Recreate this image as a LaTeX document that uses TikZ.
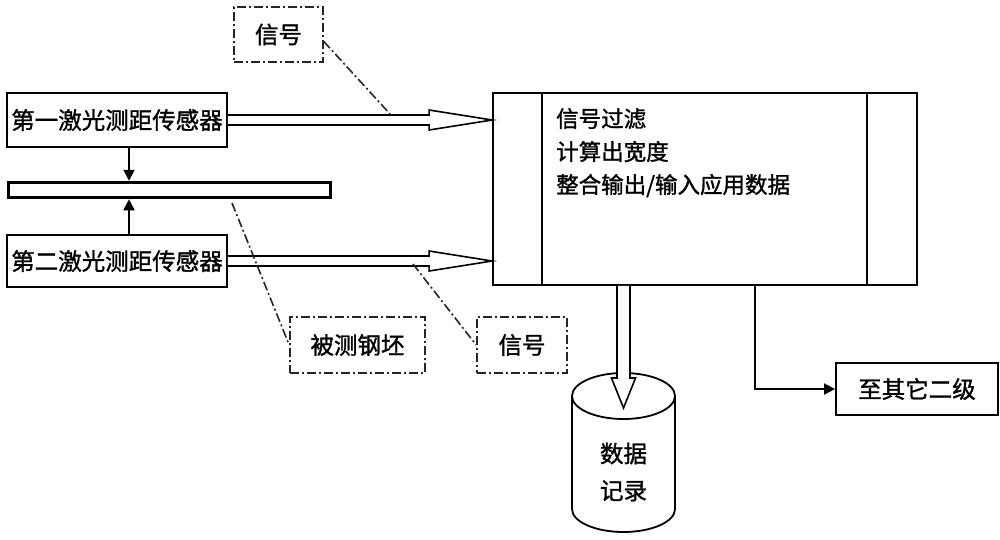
\documentclass[tikz,border=0pt]{standalone}
\usepackage{fontspec}
\setmainfont{Noto Sans CJK SC}[FakeBold=1.3]
\usetikzlibrary{arrows.meta,calc}
\tikzset{
  box/.style={draw, line width=1.8pt, rectangle, inner sep=0pt, font=\fontsize{23.5}{26}\selectfont},
  dashdotline/.style={draw=black!85, line width=1.6pt, dash pattern=on 9pt off 3pt on 2pt off 3pt},
  notebox/.style={dashdotline, rectangle, inner sep=0pt, font=\fontsize{23.5}{26}\selectfont},
  arr/.style={line width=1.8pt, -{Triangle[length=11pt,width=11pt]}},
  hollow/.style={draw, line width=1.6pt, fill=white, line join=miter},
}
\newcommand\hollowH[2]{\path[hollow] let \p1=(#1), \p2=(#2) in
  (\x1,\y1+5pt) -- (\x2-63pt,\y1+5pt) -- (\x2-63pt,\y1+10pt) -- (\x2,\y1)
  -- (\x2-63pt,\y1-10pt) -- (\x2-63pt,\y1-5pt) -- (\x1,\y1-5pt);}
\newcommand\hollowV[2]{\path[hollow] let \p1=(#1), \p2=(#2) in
  (\x1-6.5pt,\y1) -- (\x1-6.5pt,\y2+30pt) -- (\x1-12pt,\y2+30pt) -- (\x1,\y2)
  -- (\x1+12pt,\y2+30pt) -- (\x1+6.5pt,\y2+30pt) -- (\x1+6.5pt,\y1);}
\begin{document}
\begin{tikzpicture}[x=1pt,y=-1pt]
\useasboundingbox[fill=white] (0,0) rectangle (1000,539);
% sensors and bar
\node[box, minimum width=220pt, minimum height=54pt] (s1) at (117,120) {第一激光测距传感器};
\node[box, minimum width=220pt, minimum height=52pt] (s2) at (117,261) {第二激光测距传感器};
\node[draw, line width=3.5pt, minimum width=322pt, minimum height=15pt, inner sep=0pt] (bar) at (169.5,190) {};
\draw[arr] ([xshift=12pt]s1.south) -- ([xshift=12pt]s1.south |- bar.north);
\draw[arr] ([xshift=12pt]s2.north) -- ([xshift=12pt]s2.north |- bar.south);
% main box
\node[box, minimum width=424pt, minimum height=192pt] (main) at (705,189) {};
\draw[line width=1.8pt] ([xshift=50pt]main.north west) -- ([xshift=50pt]main.south west);
\draw[line width=1.8pt] ([xshift=-51pt]main.north east) -- ([xshift=-51pt]main.south east);
\node[anchor=north west, align=left, inner sep=0pt, font=\fontsize{22.5}{33}\selectfont] (txt) at (556,108)
  {信号过滤\\计算出宽度\\整合输出/输入应用数据};
% notes
\node[notebox, minimum width=89pt, minimum height=55pt] (sig1) at (278.5,34.5) {信号};
\node[notebox, minimum width=135pt, minimum height=56pt] (obj) at (357.5,345) {被测钢坯};
\node[notebox, minimum width=90pt, minimum height=56pt] (sig2) at (522,345) {信号};
% other
\node[box, minimum width=162pt, minimum height=52pt] (other) at (917,389) {至其它二级};
\draw[arr] ([xshift=263pt]main.south west) |- (other.west);
% database cylinder
\node[inner sep=0pt, minimum width=103pt, minimum height=159pt, align=center,
  font=\fontsize{23.5}{37}\selectfont] (db) at (623.5,472) {数据\\记录};
\draw[line width=1.8pt] (572,396) -- (572,509) arc[start angle=180, end angle=360, x radius=51.5pt, y radius=23pt] -- (675,396);
\draw[line width=1.8pt] (623.5,396) ellipse[x radius=51.5pt, y radius=23pt];
% hollow arrows
\coordinate (t1) at (main.west |- s1.east);
\coordinate (t2) at (main.west |- s2.east);
\hollowH{s1.east}{t1}
\hollowH{s2.east}{t2}
\coordinate (dbtop) at ([xshift=-81.5pt]main.south);
\coordinate (dbtip) at (623.5,408);
\hollowV{dbtop}{dbtip}
% dash-dot leaders
\coordinate (p1) at (390,114);
\coordinate (p2) at (232,203);
\coordinate (p3) at (413,264);
\draw[dashdotline] ([yshift=-7pt]sig1.east) -- (p1);
\draw[dashdotline] (p2) -- (obj.west);
\draw[dashdotline] (p3) -- (sig2.west);
\end{tikzpicture}
\end{document}
